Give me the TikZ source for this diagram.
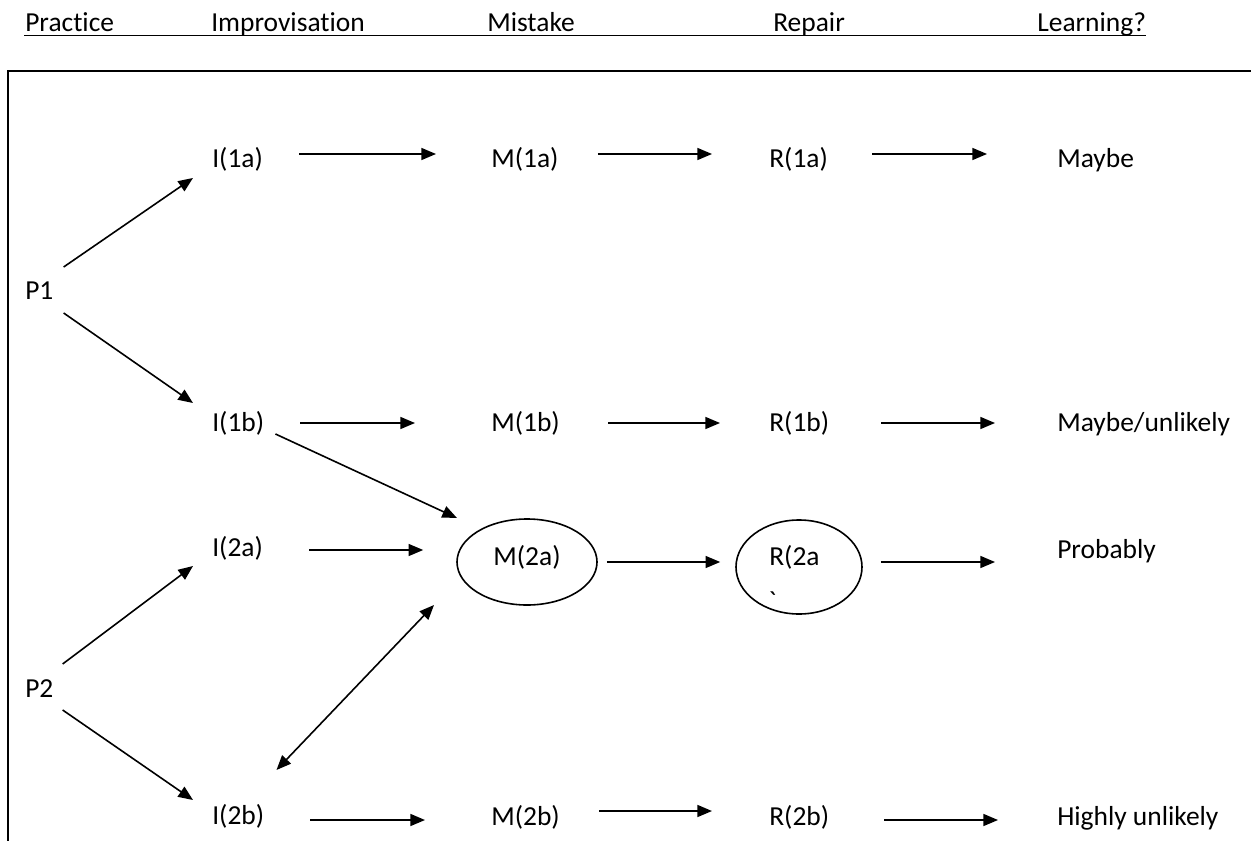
\documentclass[tikz,border=0pt]{standalone}
\usepackage{fontspec}
\setmainfont{Carlito}[Ligatures=NoCommon]
\newfontfamily\rawfont{Carlito}[Ligatures={TeXOff,NoCommon}]
\usetikzlibrary{arrows.meta,shapes.geometric,calc}
\begin{document}
\begin{tikzpicture}[x=0.75pt,y=-0.75pt,
  lbl/.style={font=\fontsize{20.6}{24}\selectfont, inner sep=0pt, anchor=base west},
  arr/.style={-{Triangle[length=11pt,width=9pt]}, line width=1.2pt},
  darr/.style={{Triangle[length=11pt,width=9pt]}-{Triangle[length=11pt,width=9pt]}, line width=1.2pt},
  oval/.style={ellipse, draw, line width=1.2pt, inner sep=0pt, font=\fontsize{20.6}{24}\selectfont},
  frame/.style={line width=1.7pt},
]
\useasboundingbox (0,0) rectangle (1251,841);

% header
\node[lbl] (hp) at (25,32) {Practice};
\node[lbl] (hi) at (211,32) {Improvisation};
\node[lbl] (hm) at (487,32) {Mistake};
\node[lbl] (hr) at (773,32) {Repair};
\node[lbl] (hl) at (1037,32) {Learning?};
\draw[line width=1.4pt] ($(hp.base west)+(-1,3.5)$) -- ($(hl.base east)+(0,3.5)$);

% frame
\draw[frame] (8,841) -- (8,71) -- (1251,71);

% practices
\node[lbl] (p1) at (25,300) {P1};
\node[lbl] (p2) at (25,697) {P2};

% row 1a
\node[lbl] (i1a) at (212,168) {I(1a)};
\node[lbl] (m1a) at (491,168) {M(1a)};
\node[lbl] (r1a) at (769,168) {R(1a)};
\node[lbl] (f1a) at (1057,168) {Maybe};

% row 1b
\node[lbl] (i1b) at (212,431) {I(1b)};
\node[lbl] (m1b) at (491,431) {M(1b)};
\node[lbl] (r1b) at (769,431) {R(1b)};
\node[lbl] (f1b) at (1057,431) {Maybe/unlikely};

% row 2a
\node[lbl] (i2a) at (212,556) {I(2a)};
\node[oval, minimum width=105pt, minimum height=64.5pt, text depth=10pt] (m2a) at (527,562) {M(2a)};
\node[oval, minimum width=94.5pt, minimum height=70.5pt] (r2a) at (799,567) {};
\node[lbl] (r2at) at (769,565) {R(2a};
\node[lbl] (r2ab) at (768,610) {\rawfont\symbol{96}};
\node[lbl] (f2a) at (1057,558) {Probably};

% row 2b
\node[lbl] (i2b) at (212,824) {I(2b)};
\node[lbl] (m2b) at (491,825) {M(2b)};
\node[lbl] (r2b) at (769,825) {R(2b)};
\node[lbl] (f2b) at (1057,825) {Highly unlikely};

% diagonal arrows
\draw[arr] ($(p1.base east)+(10,-33)$) -- ($(i1a.base west)+(-19,10)$);
\draw[arr] ($(p1.base east)+(10,13)$) -- ($(i1b.base west)+(-19,-28)$);
\draw[arr] ($(p2.base east)+(9,-33)$) -- ($(i2a.base west)+(-19,10)$);
\draw[arr] ($(p2.base east)+(9,13)$) -- ($(i2b.base west)+(-19,-24)$);
\draw[arr] ($(i1b.base east)+(11,3)$) -- ($(m2a.center)+(-70,-44)$);
\draw[darr] ($(i2b.base east)+(12,-54)$) -- ($(m2a.center)+(-93,43)$);

% row 1a arrows
\draw[arr] ($(i1a.base east)+(36,-14)$) -- ($(m1a.base west)+(-55,-14)$);
\draw[arr] ($(m1a.base east)+(39,-14)$) -- ($(r1a.base west)+(-57,-14)$);
\draw[arr] ($(r1a.base east)+(44,-14)$) -- ($(f1a.base west)+(-70,-14)$);

% row 1b arrows
\draw[arr] ($(i1b.base east)+(36,-8)$) -- ($(m1b.base west)+(-76,-8)$);
\draw[arr] ($(m1b.base east)+(48,-8)$) -- ($(r1b.base west)+(-49,-8)$);
\draw[arr] ($(r1b.base east)+(52,-8)$) -- ($(f1b.base west)+(-62,-8)$);

% row 2a arrows
\draw[arr] ($(i2a.base east)+(46,-6)$) -- ($(m2a.west)+(-33,-12)$);
\draw[arr] ($(m2a.east)+(9,0)$) -- ($(r2a.west)+(-15,-5)$);
\draw[arr] ($(r2a.east)+(18,-5)$) -- ($(f2a.base west)+(-62,4)$);

% row 2b arrows
\draw[arr] ($(i2b.base east)+(46,-4)$) -- ($(m2b.base west)+(-66,-5)$);
\draw[arr] ($(m2b.base east)+(39,-14)$) -- ($(r2b.base west)+(-57,-14)$);
\draw[arr] ($(r2b.base east)+(55,-5)$) -- ($(f2b.base west)+(-59,-5)$);
\end{tikzpicture}
\end{document}
